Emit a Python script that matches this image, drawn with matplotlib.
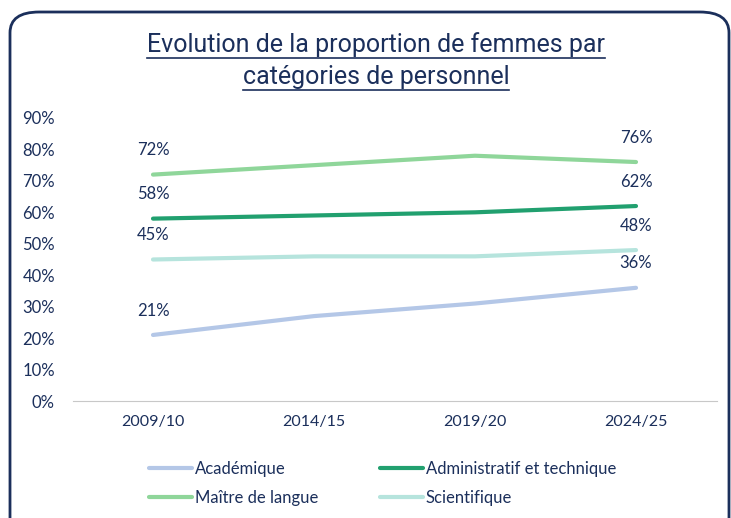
import matplotlib.pyplot as plt
from matplotlib.patches import FancyBboxPatch
from matplotlib.lines import Line2D
from matplotlib.ticker import FuncFormatter

annees = ['2009/10', '2014/15', '2019/20', '2024/25']
academique = [21, 27, 31, 36]
administratif = [58, 59, 60, 62]
maitre_langue = [72, 75, 78, 76]
scientifique = [45, 46, 46, 48]

series = [
    ('Académique', academique, '#b4c7e7'),
    ('Administratif et technique', administratif, '#21a06f'),
    ('Maître de langue', maitre_langue, '#8fd69a'),
    ('Scientifique', scientifique, '#b6e4dd'),
]

navy = '#1b2f5b'
plt.rcParams['font.family'] = ['Lato', 'DejaVu Sans']

fig = plt.figure(figsize=(7.31, 5.18), dpi=100)
W, H = 731, 518

# cadre arrondi
cadre = FancyBboxPatch((10 / W, -0.1), (729 - 10) / W, 1.1 - 12 / H,
                       boxstyle='round,pad=0,rounding_size=0.04',
                       transform=fig.transFigure, facecolor='none',
                       edgecolor=navy, linewidth=2, zorder=5)
fig.add_artist(cadre)

ax = fig.add_axes([72.5 / W, (H - 401) / H, (716.5 - 72.5) / W, (401 - 118) / H])
ax.set_facecolor('none')

x = range(len(annees))
handles = {}
for nom, valeurs, couleur in series:
    h, = ax.plot(x, valeurs, color=couleur, linewidth=3, label=nom, solid_capstyle='round')
    handles[nom] = h
    for i in (0, len(valeurs) - 1):
        ax.annotate(f'{valeurs[i]}%', (i, valeurs[i]), xytext=(0, 17.5),
                    textcoords='offset points', ha='center', va='center',
                    fontsize=12, color=navy)

ax.set_xlim(-0.5, 3.5)
ax.set_ylim(0, 90)
ax.set_yticks(range(0, 91, 10))
ax.yaxis.set_major_formatter(FuncFormatter(lambda v, p: f'{v:.0f}%'))
ax.set_xticks(list(x))
ax.set_xticklabels(annees)
ax.tick_params(length=0, colors=navy)
ax.tick_params(axis='y', pad=12.6, labelsize=12)
ax.tick_params(axis='x', pad=10, labelsize=11.5)
for s in ['top', 'right', 'left']:
    ax.spines[s].set_visible(False)
ax.spines['bottom'].set_color('#c8c8c8')

# ordre pour remplir ligne par ligne
ordre = ['Académique', 'Maître de langue', 'Administratif et technique', 'Scientifique']
ax.legend([handles[n] for n in ordre], ordre, loc='upper left',
          bbox_to_anchor=(134 / W, (H - 446) / H),
          bbox_transform=fig.transFigure, ncol=2, frameon=False,
          fontsize=12, labelcolor=navy, handlelength=2.6, handletextpad=0.15,
          columnspacing=3.7, labelspacing=0.75)

# titre souligné
lignes = ['Evolution de la proportion de femmes par', 'catégories de personnel']
ys = [45, 77]
fig.canvas.draw()
renderer = fig.canvas.get_renderer()
for txt, yp in zip(lignes, ys):
    t = fig.text(376 / W, 1 - yp / H, txt, ha='center', va='center',
                 fontsize=18, color=navy, family='Roboto')
    bb = t.get_window_extent(renderer=renderer)
    yl = bb.y0 - 1
    fig.add_artist(Line2D([bb.x0 / W, bb.x1 / W], [yl / H] * 2,
                          transform=fig.transFigure, color=navy, linewidth=1.2))

fig.savefig('out.png', dpi=100)
